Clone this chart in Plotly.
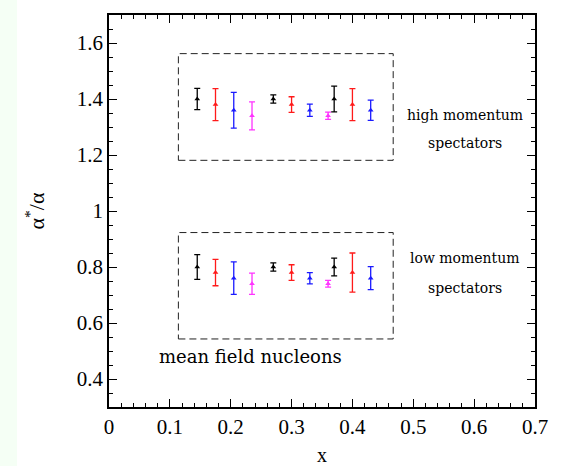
import plotly.graph_objects as go

# x positions of each colour series
x_black = [0.145, 0.27, 0.37]
x_red = [0.175, 0.30, 0.40]
x_blue = [0.205, 0.33, 0.43]
x_magenta = [0.235, 0.36]

# high momentum spectators
hi_black = [1.40, 1.40, 1.40]
hi_black_err = [0.038, 0.015, 0.046]
hi_red = [1.38, 1.38, 1.38]
hi_red_err = [0.057, 0.028, 0.057]
hi_blue = [1.36, 1.36, 1.36]
hi_blue_err = [0.064, 0.022, 0.036]
hi_magenta = [1.34, 1.34]
hi_magenta_err = [0.050, 0.013]

# low momentum spectators
lo_black = [0.80, 0.80, 0.80]
lo_black_err = [0.044, 0.015, 0.032]
lo_red = [0.78, 0.78, 0.78]
lo_red_err = [0.047, 0.028, 0.070]
lo_blue = [0.76, 0.76, 0.76]
lo_blue_err = [0.058, 0.020, 0.041]
lo_magenta = [0.74, 0.74]
lo_magenta_err = [0.038, 0.012]

series = [
    (x_black, hi_black, hi_black_err, lo_black, lo_black_err, "black"),
    (x_red, hi_red, hi_red_err, lo_red, lo_red_err, "#ff1a1a"),
    (x_blue, hi_blue, hi_blue_err, lo_blue, lo_blue_err, "#1a1aff"),
    (x_magenta, hi_magenta, hi_magenta_err, lo_magenta, lo_magenta_err, "#ff33ff"),
]

fig = go.Figure()
for xs, yh, eh, yl, el, col in series:
    for ys, es in ((yh, eh), (yl, el)):
        fig.add_trace(go.Scatter(
            x=xs, y=ys, mode="markers",
            marker=dict(symbol="triangle-up", size=5, color=col),
            error_y=dict(type="data", array=es, visible=True, color=col,
                         thickness=1.3, width=3),
            showlegend=False,
        ))

serif = "Liberation Serif, Times New Roman, serif"
text_font = "DejaVu Serif, serif"

shapes = [
    dict(type="rect", xref="paper", yref="paper", x0=-0.26, x1=-0.216,
         y0=-0.16, y1=1.05, fillcolor="#f5fff5", line=dict(width=0), layer="below"),
    dict(type="rect", x0=0.114, x1=0.467, y0=1.181, y1=1.562,
         line=dict(color="#222", width=1, dash="7px,4px")),
    dict(type="rect", x0=0.114, x1=0.467, y0=0.543, y1=0.923,
         line=dict(color="#222", width=1, dash="7px,4px")),
]

annotations = [
    dict(x=0.585, y=1.342, text="high momentum", showarrow=False,
         font=dict(family=text_font, size=14, color="black")),
    dict(x=0.585, y=1.242, text="spectators", showarrow=False,
         font=dict(family=text_font, size=14, color="black")),
    dict(x=0.585, y=0.832, text="low momentum", showarrow=False,
         font=dict(family=text_font, size=14, color="black")),
    dict(x=0.585, y=0.725, text="spectators", showarrow=False,
         font=dict(family=text_font, size=14, color="black")),
    dict(x=0.232, y=0.482, text="mean field nucleons", showarrow=False,
         font=dict(family=text_font, size=18, color="black")),
]

axis_common = dict(
    showgrid=False, zeroline=False, showline=True, linecolor="black",
    linewidth=1.5, mirror="allticks", ticks="inside", ticklen=8,
    tickcolor="black", tickwidth=1, automargin=False,
    tickfont=dict(family=serif, size=21, color="black"),
)

fig.update_layout(
    template="none",
    width=568, height=466, autosize=False,
    margin=dict(l=109, r=33, t=15, b=59),
    paper_bgcolor="white", plot_bgcolor="white",
    shapes=shapes, annotations=annotations,
    xaxis=dict(range=[0, 0.7], dtick=0.1, tick0=0,
               minor=dict(dtick=0.02, ticklen=4, ticks="inside", tickcolor="black"),
               title=dict(text="x", font=dict(family=serif, size=20, color="black"),
                          standoff=12),
               **axis_common),
    yaxis=dict(range=[0.3, 1.7], dtick=0.2, tick0=0.4,
               minor=dict(dtick=0.05, ticklen=4, ticks="inside", tickcolor="black"),
               title=dict(text="α<sup>*</sup>/α", font=dict(family=serif, size=22, color="black"),
                          standoff=26),
               **axis_common),
)

fig.write_html("out.html")
